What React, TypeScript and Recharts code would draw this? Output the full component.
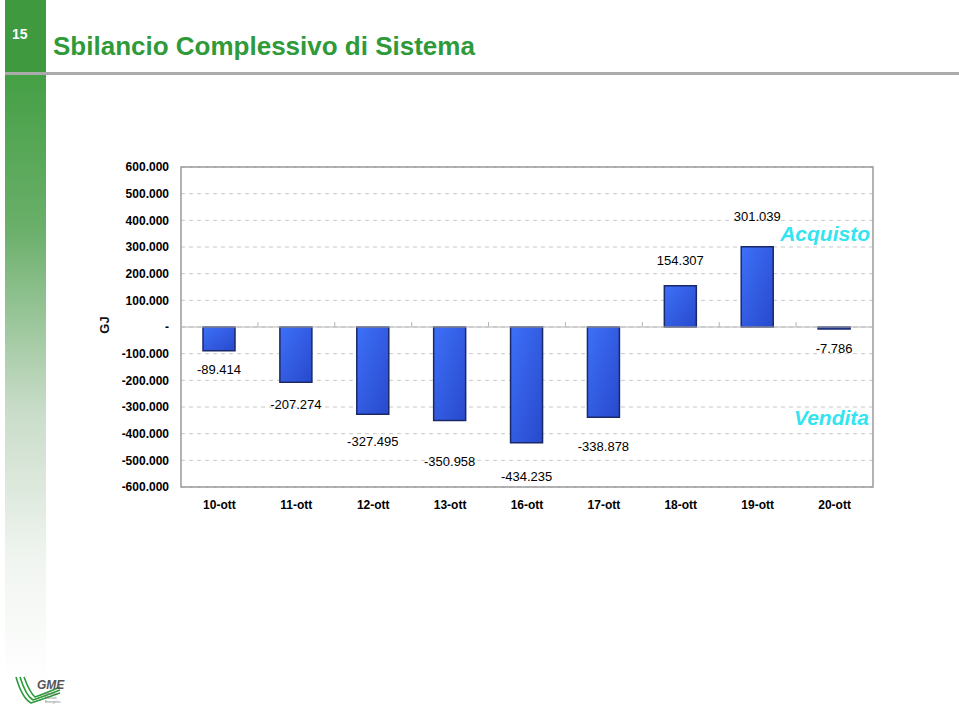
import { BarChart, Bar, XAxis, YAxis, CartesianGrid, ReferenceLine, ReferenceArea, LabelList } from 'recharts';

const categories = ['10-ott', '11-ott', '12-ott', '13-ott', '16-ott', '17-ott', '18-ott', '19-ott', '20-ott'];
const balance = [-89414, -207274, -327495, -350958, -434235, -338878, 154307, 301039, -7786];
const yTicks = [600000, 500000, 400000, 300000, 200000, 100000, 0, -100000, -200000, -300000, -400000, -500000, -600000];

// distance of each value label from the end of its bar (as placed in the original)
const labelGap = [19, 22, 27, 41, 34, 29, 25, 30, 19];

const data = categories.map((day, i) => ({ day, value: balance[i] }));

const FONT = '"Liberation Sans", Arial, Helvetica, sans-serif';
const NARROW = '"Liberation Sans Narrow", "Liberation Sans", Arial, sans-serif';

const fmt = (v: number) => {
  if (v === 0) return '-';
  const s = Math.abs(v).toString().replace(/\B(?=(\d{3})+(?!\d))/g, '.');
  return (v < 0 ? '-' : '') + s;
};

const renderValueLabel = (props: any) => {
  const vb = props.viewBox || {};
  const x = props.x ?? vb.x;
  const y = props.y ?? vb.y;
  const w = props.width ?? vb.width;
  const h = props.height ?? vb.height;
  const value = Number(props.value);
  const idx = props.index ?? 0;
  const top = Math.min(y, y + h);
  const bottom = Math.max(y, y + h);
  const gap = labelGap[idx] ?? 20;
  const ty = value < 0 ? bottom + gap : top - gap;
  return (
    <text x={x + w / 2} y={ty} textAnchor="middle" dominantBaseline="central" fontFamily={FONT} fontSize={13} fill="#000">
      {fmt(value)}
    </text>
  );
};

const ZeroLine = (props: any) => {
  const { x1, y1, x2 } = props;
  const step = (x2 - x1) / categories.length;
  return (
    <g>
      <line x1={x1} y1={y1} x2={x2} y2={y1} stroke="#b5b5b5" strokeWidth={1.2} />
      {categories.map((_, i) => (
        <line key={i} x1={x1 + step * i} x2={x1 + step * i} y1={y1 - 5} y2={y1} stroke="#b5b5b5" strokeWidth={1} />
      ))}
    </g>
  );
};

const Decorations = () => (
  <svg width={959} height={713} style={{ position: 'absolute', left: 0, top: 0 }}>
    <defs>
      <linearGradient id="strip" x1="0" y1="0" x2="0" y2="1">
        <stop offset="0%" stopColor="#45a045" />
        <stop offset="25%" stopColor="#6aaf6a" />
        <stop offset="55%" stopColor="#c9dcc9" />
        <stop offset="80%" stopColor="#f1f5f1" />
        <stop offset="100%" stopColor="#ffffff" />
      </linearGradient>
    </defs>
    <rect x={5} y={0} width={41} height={72} fill="#3f9a3f" />
    <rect x={5} y={75} width={41} height={610} fill="url(#strip)" />
    <rect x={5} y={72} width={954} height={3} fill="#ababab" />
    <text x={12} y={39} fontFamily={FONT} fontWeight="bold" fontSize={14} fill="#ffffff">15</text>
    <text x={53} y={55} fontFamily={FONT} fontWeight="bold" fontSize={26} fill="#2f9a3a">Sbilancio Complessivo di Sistema</text>
    <text x={109} y={325} fontFamily={FONT} fontWeight="bold" fontSize={13} fill="#111" textAnchor="middle" transform="rotate(-90 109 325)">GJ</text>
    <text x={870} y={241} fontFamily={FONT} fontWeight="bold" fontStyle="italic" fontSize={21} fill="#33e4f0" textAnchor="end">Acquisto</text>
    <text x={869} y={425} fontFamily={FONT} fontWeight="bold" fontStyle="italic" fontSize={21} fill="#33e4f0" textAnchor="end">Vendita</text>
    {/* GME logo */}
    <g fill="none" stroke="#2f9a3a" strokeWidth={1.6}>
      <path d="M16 677 Q22 698 31 703 Q40 700 60 693" />
      <path d="M20 677 Q26 696 33 700 Q42 697 60 690" />
      <path d="M24 677 Q30 693 35 697 Q44 694 60 687" />
    </g>
    <text x={37} y={689} fontFamily={FONT} fontWeight="bold" fontStyle="italic" fontSize={12} fill="#555">GME</text>
    <text x={45} y={695} fontFamily={FONT} fontSize={3.5} fill="#777">Gestore</text>
    <text x={45} y={699} fontFamily={FONT} fontSize={3.5} fill="#777">Mercati</text>
    <text x={45} y={703} fontFamily={FONT} fontSize={3.5} fill="#777">Energetici</text>
  </svg>
);

export default function App() {
  return (
    <div style={{ position: 'absolute', left: 0, top: 0, width: 959, height: 713, background: '#fff', overflow: 'hidden' }}>
      <Decorations />
      <div style={{ position: 'absolute', left: 0, top: 0 }}>
        <BarChart width={959} height={713} data={data} margin={{ top: 167, right: 86, bottom: 196, left: 101 }}>
          <defs>
            <linearGradient id="barFill" x1="0" y1="0" x2="1" y2="1">
              <stop offset="0%" stopColor="#3d70f8" />
              <stop offset="100%" stopColor="#2849cc" />
            </linearGradient>
          </defs>
          <CartesianGrid vertical={false} stroke="#c8c8c8" strokeDasharray="4 4" />
          <ReferenceArea y1={-600000} y2={600000} fill="none" stroke="#9a9a9a" strokeWidth={1.5} />
          <XAxis
            dataKey="day"
            height={30}
            axisLine={false}
            tickLine={false}
            tickMargin={7}
            interval={0}
            tick={{ fontFamily: NARROW, fontWeight: 'bold', fontSize: 12, fill: '#000' }}
          />
          <YAxis
            width={80}
            domain={[-600000, 600000]}
            ticks={yTicks}
            interval={0}
            axisLine={false}
            tickLine={false}
            tickMargin={6}
            tickFormatter={fmt}
            tick={{ fontFamily: FONT, fontWeight: 'bold', fontSize: 12, fill: '#000' }}
          />
          <ReferenceLine y={0} shape={ZeroLine} />
          <Bar dataKey="value" barSize={32} fill="url(#barFill)" stroke="#1b2868" strokeWidth={1.5} isAnimationActive={false}>
            <LabelList dataKey="value" content={renderValueLabel} />
          </Bar>
        </BarChart>
      </div>
    </div>
  );
}
